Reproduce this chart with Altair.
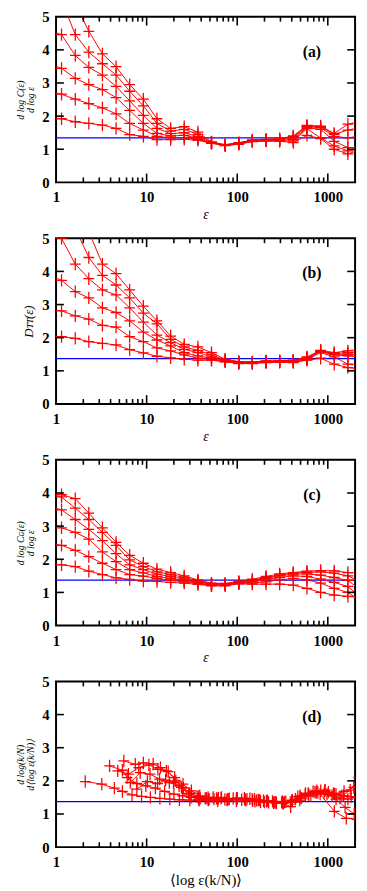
import altair as alt
import pandas as pd

# ---------------- data ----------------
# common epsilon grid for panels (a)-(c)
eps = [0.81, 1.15, 1.63, 2.3, 3.25, 4.6, 6.5, 9.2, 13.0, 18.4, 26.0, 36.8, 52.0,
       73.6, 104, 147, 208, 294, 416, 589, 833, 1177, 1665, 2355]

a_c1 = [1.97, 1.92, 1.83, 1.78, 1.73, 1.63, 1.44, 1.39, 1.29, 1.29, 1.30, 1.27, 1.18, 1.11, 1.15, 1.23, 1.25, 1.24, 1.20, 1.42, 1.32, 1.00, 0.86, 1.00]
a_c2 = [2.75, 2.66, 2.51, 2.38, 2.25, 2.07, 1.78, 1.58, 1.39, 1.34, 1.35, 1.30, 1.19, 1.12, 1.16, 1.24, 1.26, 1.25, 1.25, 1.62, 1.34, 1.10, 0.95, 1.04]
a_c3 = [3.60, 3.44, 3.14, 2.95, 2.80, 2.56, 2.17, 1.78, 1.48, 1.40, 1.42, 1.33, 1.19, 1.12, 1.17, 1.25, 1.27, 1.26, 1.30, 1.65, 1.60, 1.24, 1.05, 1.05]
a_c4 = [4.60, 4.46, 3.83, 3.47, 3.24, 2.90, 2.46, 2.02, 1.63, 1.47, 1.50, 1.38, 1.20, 1.13, 1.18, 1.26, 1.28, 1.28, 1.35, 1.68, 1.65, 1.39, 1.34, 1.42]
a_c5 = [6.60, 5.50, 4.46, 3.93, 3.58, 3.24, 2.75, 2.31, 1.78, 1.55, 1.60, 1.45, 1.21, 1.13, 1.19, 1.27, 1.29, 1.30, 1.38, 1.70, 1.68, 1.45, 1.58, 1.66]
a_c6 = [7.80, 6.50, 5.40, 4.56, 3.88, 3.49, 2.95, 2.51, 1.92, 1.63, 1.68, 1.52, 1.22, 1.14, 1.20, 1.28, 1.30, 1.32, 1.40, 1.72, 1.70, 1.48, 1.76, 1.84]

b_c1 = [2.06, 2.03, 1.98, 1.88, 1.83, 1.78, 1.64, 1.54, 1.44, 1.39, 1.35, 1.32, 1.32, 1.27, 1.22, 1.22, 1.25, 1.26, 1.25, 1.32, 1.38, 1.20, 1.10, 1.05]
b_c2 = [2.85, 2.81, 2.66, 2.56, 2.37, 2.32, 2.03, 1.88, 1.69, 1.60, 1.48, 1.38, 1.34, 1.28, 1.23, 1.23, 1.26, 1.27, 1.27, 1.34, 1.55, 1.42, 1.20, 1.15]
b_c3 = [3.90, 3.73, 3.39, 3.20, 2.90, 2.76, 2.51, 2.17, 1.93, 1.75, 1.55, 1.45, 1.38, 1.30, 1.24, 1.24, 1.27, 1.28, 1.29, 1.36, 1.58, 1.48, 1.45, 1.42]
b_c4 = [5.60, 5.00, 4.22, 3.78, 3.44, 3.29, 2.90, 2.47, 2.08, 1.85, 1.65, 1.55, 1.42, 1.32, 1.25, 1.25, 1.28, 1.29, 1.30, 1.38, 1.59, 1.50, 1.50, 1.50]
b_c5 = [7.50, 6.30, 5.30, 4.42, 3.88, 3.59, 3.20, 2.74, 2.42, 1.95, 1.72, 1.62, 1.48, 1.33, 1.27, 1.26, 1.29, 1.30, 1.31, 1.40, 1.60, 1.52, 1.55, 1.58]
b_c6 = [9.00, 7.60, 6.30, 5.20, 4.22, 3.93, 3.44, 2.95, 2.51, 2.05, 1.80, 1.72, 1.55, 1.35, 1.28, 1.27, 1.30, 1.30, 1.32, 1.42, 1.62, 1.55, 1.60, 1.66]

c_c1 = [1.85, 1.83, 1.78, 1.64, 1.54, 1.44, 1.39, 1.34, 1.33, 1.30, 1.28, 1.24, 1.20, 1.20, 1.26, 1.25, 1.25, 1.25, 1.22, 1.12, 1.00, 0.92, 0.88, 0.84]
c_c2 = [2.50, 2.42, 2.27, 2.08, 1.88, 1.69, 1.54, 1.49, 1.42, 1.36, 1.32, 1.27, 1.21, 1.22, 1.27, 1.28, 1.32, 1.38, 1.42, 1.38, 1.28, 1.12, 1.00, 0.72]
c_c3 = [3.10, 2.95, 2.81, 2.61, 2.22, 1.93, 1.69, 1.59, 1.48, 1.42, 1.36, 1.30, 1.23, 1.23, 1.28, 1.32, 1.38, 1.45, 1.50, 1.48, 1.40, 1.30, 1.18, 0.82]
c_c4 = [3.62, 3.49, 3.20, 2.90, 2.56, 2.17, 1.83, 1.69, 1.55, 1.48, 1.40, 1.32, 1.25, 1.25, 1.30, 1.35, 1.42, 1.50, 1.55, 1.56, 1.52, 1.45, 1.36, 1.05]
c_c5 = [4.00, 3.88, 3.54, 3.20, 2.81, 2.42, 1.98, 1.78, 1.62, 1.54, 1.45, 1.35, 1.26, 1.26, 1.31, 1.37, 1.45, 1.52, 1.58, 1.60, 1.62, 1.58, 1.50, 1.30]
c_c6 = [None, 3.95, 3.83, 3.39, 2.95, 2.51, 2.12, 1.88, 1.70, 1.60, 1.50, 1.38, 1.28, 1.27, 1.33, 1.40, 1.48, 1.56, 1.60, 1.64, 1.66, 1.65, 1.60, 1.58]

# panel (d): each curve has its own <log eps(k/N)> positions
d1_x = [2.1, 3.2, 4.4, 5.4, 6.9, 8.8, 11, 14, 18, 23, 30, 38, 48, 61, 77, 98, 124, 157, 199, 252, 320, 405, 513, 650, 823, 1180, 1600, 2100]
d1_y = [1.98, 1.90, 1.78, 1.68, 1.58, 1.53, 1.50, 1.47, 1.45, 1.43, 1.42, 1.41, 1.43, 1.40, 1.42, 1.39, 1.41, 1.38, 1.36, 1.34, 1.33, 1.38, 1.48, 1.55, 1.60, 1.08, 0.87, 0.84]
d2_x = [3.9, 5.4, 6.1, 7.8, 9.8, 12.5, 15.8, 20, 25, 31, 39, 49, 62, 78, 98, 123, 155, 195, 245, 309, 389, 490, 617, 777, 979, 1233, 1553, 1956, 2460]
d2_y = [2.45, 2.32, 2.10, 1.92, 1.85, 1.78, 1.68, 1.60, 1.55, 1.50, 1.47, 1.45, 1.48, 1.44, 1.46, 1.43, 1.45, 1.40, 1.38, 1.35, 1.22, 1.42, 1.58, 1.65, 1.60, 1.45, 1.20, 1.00, 0.95]
d3_x = [5.6, 7.5, 9.2, 11.8, 14.2, 17.3, 21, 25.5, 31, 37.6, 45.6, 55.4, 67, 81.5, 99, 120, 146, 177, 215, 261, 317, 385, 467, 567, 688, 835, 1014, 1231, 1494, 1813, 2200]
d3_y = [2.60, 2.50, 2.54, 2.51, 2.40, 2.28, 2.00, 1.78, 1.62, 1.52, 1.48, 1.45, 1.50, 1.46, 1.44, 1.48, 1.45, 1.42, 1.40, 1.36, 1.38, 1.35, 1.52, 1.62, 1.68, 1.70, 1.66, 1.60, 1.55, 1.52, 1.50]
d4_x = [4.8, 6.3, 8.2, 10.6, 13.3, 16.5, 20.4, 25.2, 31.2, 38.6, 47.7, 59, 73, 90.3, 112, 138, 171, 211, 261, 323, 400, 494, 611, 756, 935, 1157, 1431, 1770, 2190]
d4_y = [2.30, 2.20, 2.40, 2.48, 2.35, 2.30, 2.10, 1.90, 1.70, 1.55, 1.50, 1.47, 1.44, 1.47, 1.43, 1.46, 1.42, 1.38, 1.35, 1.32, 1.40, 1.55, 1.62, 1.70, 1.72, 1.62, 1.55, 1.72, 2.10]
d5_x = [6.6, 8.5, 10.9, 13.9, 17.8, 22.8, 29.2, 37.4, 47.9, 61.3, 78.5, 100, 128, 164, 210, 269, 344, 440, 563, 721, 923, 1181, 1512, 1935, 2477]
d5_y = [1.95, 2.25, 2.20, 2.05, 1.95, 1.85, 1.60, 1.45, 1.42, 1.46, 1.44, 1.48, 1.45, 1.41, 1.39, 1.35, 1.37, 1.45, 1.58, 1.66, 1.70, 1.60, 1.68, 1.80, 1.85]
d6_x = [7.8, 10.2, 13.2, 16.2, 19.8, 24.2, 29.6, 36.2, 44.3, 54.2, 66.3, 81.1, 99.2, 121, 148, 181, 222, 271, 332, 406, 497, 608, 744, 910, 1113, 1362, 1666, 2038]
d6_y = [1.75, 1.98, 1.92, 2.02, 1.95, 1.80, 1.62, 1.52, 1.47, 1.50, 1.48, 1.45, 1.47, 1.44, 1.40, 1.37, 1.35, 1.33, 1.36, 1.42, 1.50, 1.60, 1.65, 1.62, 1.55, 1.48, 1.45, 1.50]

blue_levels = [1.34, 1.37, 1.37, 1.37]
panel_tags = ["(a)", "(b)", "(c)", "(d)"]
y_titles = [["d log C(ε)", "d log ε"], "Dᴛᴛ(ε)", ["d log Cɢ(ε)", "d log ε"],
            ["d log(k/N)", "d⟨log ε(k/N)⟩"]]
x_titles = ["ε", "ε", "ε", "⟨log ε(k/N)⟩"]
x_labels = [1, 10, 100, 1000]
y_labels = [0, 1, 2, 3, 4, 5]
x_major_ticks = [10, 100, 1000]
x_minor_ticks = [2, 3, 4, 5, 6, 7, 8, 9, 20, 30, 40, 50, 60, 70, 80, 90,
                 200, 300, 400, 500, 600, 700, 800, 900]
y_ticks = [1, 2, 3, 4]


def grid_frame(curves):
    rows = []
    for ci, vals in enumerate(curves):
        for xv, yv in zip(eps, vals):
            if yv is not None:
                rows.append({"x": xv, "y": yv, "curve": ci})
    return pd.DataFrame(rows)


def free_frame(pairs):
    rows = []
    for ci, (xl, yl) in enumerate(pairs):
        for xv, yv in zip(xl, yl):
            rows.append({"x": xv, "y": yv, "curve": ci})
    return pd.DataFrame(rows)


frames = [
    grid_frame([a_c1, a_c2, a_c3, a_c4, a_c5, a_c6]),
    grid_frame([b_c1, b_c2, b_c3, b_c4, b_c5, b_c6]),
    grid_frame([c_c1, c_c2, c_c3, c_c4, c_c5, c_c6]),
    free_frame([(d1_x, d1_y), (d2_x, d2_y), (d3_x, d3_y), (d4_x, d4_y), (d5_x, d5_y), (d6_x, d6_y)]),
]

W, H = 305, 169
FONT = "Liberation Serif"
PLUS = "M-1,0L1,0M0,-1.15L0,1.15"


def make_panel(i):
    df = frames[i]
    xs = alt.Scale(type="log", domain=[1, 2000], nice=False)
    ys = alt.Scale(domain=[0, 5], nice=False, zero=False)
    ytitle = y_titles[i]
    yaxis = alt.Axis(values=y_labels, format="d", title=ytitle, labelPadding=7,
                     titlePadding=6, labelFlush=False,
                     titleFontSize=(13 if isinstance(ytitle, str) else 10),
                     titleFontStyle="italic", titleLineHeight=11)
    xaxis = alt.Axis(values=x_labels, format="d", title=x_titles[i], labelPadding=8,
                     titlePadding=3, labelFlush=False, labelOverlap=False,
                     titleFontSize=(14 if i < 3 else 15),
                     titleFontStyle=("italic" if i < 3 else "normal"))
    X = alt.X("x:Q", scale=xs, axis=xaxis)
    Y = alt.Y("y:Q", scale=ys, axis=yaxis)

    blue = alt.Chart(pd.DataFrame({"y": [blue_levels[i]]})).mark_rule(
        color="#0000ff", strokeWidth=1.3).encode(y=Y)
    lines = alt.Chart(df).mark_line(color="#ff0000", strokeWidth=1, clip=True).encode(
        x=X, y=Y, detail="curve:N")
    pts = alt.Chart(df).mark_point(shape=PLUS, size=120, color="#ff0000", filled=False,
                                   strokeWidth=1.3, opacity=1, clip=True).encode(x=X, y=Y)
    tmaj = pd.DataFrame({"x": x_major_ticks})
    tmin = pd.DataFrame({"x": x_minor_ticks})
    ty = pd.DataFrame({"y": y_ticks})
    tk = dict(color="black", strokeWidth=1.6)
    layers = [
        blue, lines, pts,
        alt.Chart(tmaj).mark_rule(**tk).encode(x=X, y=alt.value(H), y2=alt.value(H - 9)),
        alt.Chart(tmaj).mark_rule(**tk).encode(x=X, y=alt.value(0), y2=alt.value(9)),
        alt.Chart(tmin).mark_rule(**tk).encode(x=X, y=alt.value(H), y2=alt.value(H - 5)),
        alt.Chart(tmin).mark_rule(**tk).encode(x=X, y=alt.value(0), y2=alt.value(5)),
        alt.Chart(ty).mark_rule(**tk).encode(y=Y, x=alt.value(0), x2=alt.value(8)),
        alt.Chart(ty).mark_rule(**tk).encode(y=Y, x=alt.value(W), x2=alt.value(W - 8)),
        alt.Chart(pd.DataFrame({"t": [panel_tags[i]]})).mark_text(
            font=FONT, fontWeight="bold", fontSize=16, align="center", baseline="middle",
            color="black").encode(text="t:N", x=alt.value(261), y=alt.value(36)),
    ]
    return alt.layer(*layers).properties(width=W, height=H)


chart = alt.vconcat(*[make_panel(i) for i in range(4)], spacing=8).properties(
    padding={"left": 6, "top": -8, "right": 2, "bottom": 0}
).configure_view(stroke="black", strokeWidth=2).configure_axis(
    domain=False, ticks=False, grid=False,
    labelFont=FONT, labelFontWeight="bold", labelFontSize=15, labelColor="black",
    titleFont=FONT, titleFontWeight="normal", titleColor="black"
)

chart.save("out.html", embed_options={"renderer": "svg", "actions": False})
